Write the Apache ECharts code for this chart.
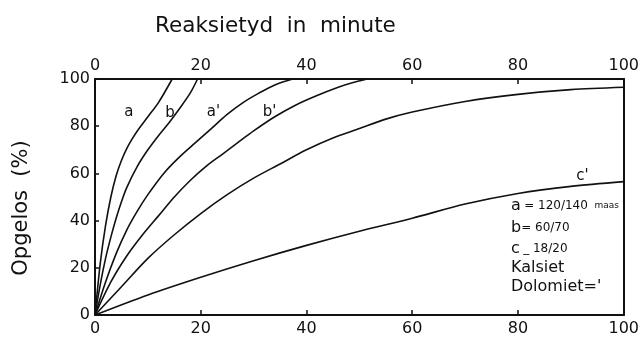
<!DOCTYPE html>
<html>
<head>
<meta charset="utf-8">
<script src="https://cdn.jsdelivr.net/npm/echarts@6/dist/echarts.min.js"></script>
<style>
  html, body { margin: 0; padding: 0; background: #fff; }
  #chart { width: 642px; height: 341px; }
</style>
</head>
<body>
<div id="chart"></div>
<script>
// Dissolved fraction (%) against reaction time (minutes), [minute, percent]
const curveA  = [[0,0],[1,22],[2,38],[3,50],[4,59],[5,65.5],[6,70.5],[7,74.5],[8,78],[10,84],[12,90],[14.6,100]];
const curveB  = [[0,0],[1,13],[2,24],[3,33],[4,41],[5,48],[6,54],[8,63],[10,70],[12,76],[14,81.5],[16,87.5],[18,94],[19.4,100]];
const curveA2 = [[0,0],[2,14],[4,26],[6,36],[8,44],[10,51],[13,60],[16,67],[19,73],[22,79],[25,85],[28,90],[31,94],[34,97.5],[37.4,100]];
const curveB2 = [[0,0],[3,14],[6,25],[9,34],[12,42],[15,50],[18,57],[21,63],[24,68],[27,73],[30,78],[34,84],[38,89],[42,93],[46,96.5],[48.5,98.3],[51.5,100]];
const curveC  = [[0,0],[5,12],[10,24],[15,34],[20,43],[25,51],[30,58],[35,64],[40,70],[45,75],[50,79],[55,83],[60,86],[70,90.5],[80,93.5],[90,95.5],[100,96.5]];
const curveC2 = [[0,0],[10,8.5],[20,16],[30,23],[40,29.5],[50,35.5],[60,41],[70,47],[80,51.5],[90,54.5],[100,56.5]];

const curveNames = ['a', 'b', "a'", "b'", 'c', "c'"];
const curveData  = [curveA, curveB, curveA2, curveB2, curveC, curveC2];

// curve tags placed in data coordinates
const tagText = ['a', 'b', "a'", "b'", "c'"];
const tagPos  = [[6.4, 86], [14.2, 85.5], [22.4, 86], [33, 86], [92.2, 59]];

const xTicks = [0, 20, 40, 60, 80, 100];
const yTicks = [0, 20, 40, 60, 80, 100];

// key lines in the lower right corner
const keyLines = [
  '{b|a} {s|= 120/140}  {t|maas}',
  '{b|b}{s|= 60/70}',
  '{b|c} {s|_ 18/20}',
  '{b|Kalsiet}',
  "{b|Dolomiet='}"
];
const keyTops = [198, 220, 241, 260, 279];

const FONT = 'DejaVu Sans';
const INK = '#111';
const chart = echarts.init(document.getElementById('chart'), null, { renderer: 'canvas' });

function xAxisAt(position, margin) {
  return {
    type: 'value',
    position: position,
    min: xTicks[0],
    max: xTicks[xTicks.length - 1],
    interval: xTicks[1] - xTicks[0],
    axisLine: { show: true, onZero: false, lineStyle: { color: INK, width: 2 } },
    axisTick: { show: true, inside: true, length: 5, lineStyle: { color: INK, width: 1.5 } },
    splitLine: { show: false },
    axisLabel: { color: INK, fontFamily: FONT, fontSize: 16, margin: margin }
  };
}

const lineSeries = curveData.map((d, i) => ({
  name: curveNames[i],
  type: 'line',
  data: d,
  smooth: 0.3,
  symbol: 'none',
  clip: true,
  lineStyle: { color: INK, width: 1.6 },
  z: 3
}));

chart.setOption({
  animation: false,
  backgroundColor: '#fff',
  title: {
    text: 'Reaksietyd  in  minute',
    left: 150, top: 10,
    textStyle: { fontFamily: FONT, fontSize: 21.5, fontWeight: 'normal', color: INK }
  },
  grid: { left: 95, right: 12, top: 79, bottom: 26, show: false },
  xAxis: [xAxisAt('bottom', 6), xAxisAt('top', 5)],
  yAxis: [
    {
      type: 'value',
      min: yTicks[0], max: yTicks[yTicks.length - 1], interval: yTicks[1] - yTicks[0],
      position: 'left',
      axisLine: { show: true, onZero: false, lineStyle: { color: INK, width: 2 } },
      axisTick: { show: true, inside: true, length: 4, lineStyle: { color: INK, width: 1.5 } },
      splitLine: { show: false },
      axisLabel: { color: INK, fontFamily: FONT, fontSize: 16, margin: 5 }
    },
    {
      type: 'value',
      min: yTicks[0], max: yTicks[yTicks.length - 1], interval: yTicks[1] - yTicks[0],
      position: 'right',
      axisLine: { show: true, onZero: false, lineStyle: { color: INK, width: 2 } },
      axisTick: { show: false },
      axisLabel: { show: false },
      splitLine: { show: false }
    }
  ],
  series: lineSeries.concat([{
    name: 'tags',
    type: 'scatter',
    symbolSize: 0,
    itemStyle: { opacity: 1 },
    data: tagPos.map((p, i) => ({ value: p, name: tagText[i] })),
    label: {
      show: true,
      position: 'inside',
      formatter: p => p.name,
      fontFamily: FONT,
      fontSize: 15,
      color: INK,
      opacity: 1
    },
    z: 4
  }]),
  graphic: [{
    type: 'text',
    x: 22,
    y: 208,
    rotation: Math.PI / 2,
    style: {
      text: 'Opgelos  (%)',
      fontFamily: FONT,
      fontSize: 21,
      fill: INK,
      align: 'center',
      verticalAlign: 'middle'
    }
  }].concat(keyLines.map((t, i) => ({
    type: 'text',
    left: 511,
    top: keyTops[i],
    style: {
      text: t,
      fill: INK,
      rich: {
        b: { fontFamily: FONT, fontSize: 16, color: INK },
        s: { fontFamily: FONT, fontSize: 12, color: INK },
        t: { fontFamily: FONT, fontSize: 9, color: INK }
      }
    }
  })))
});
</script>
</body>
</html>
